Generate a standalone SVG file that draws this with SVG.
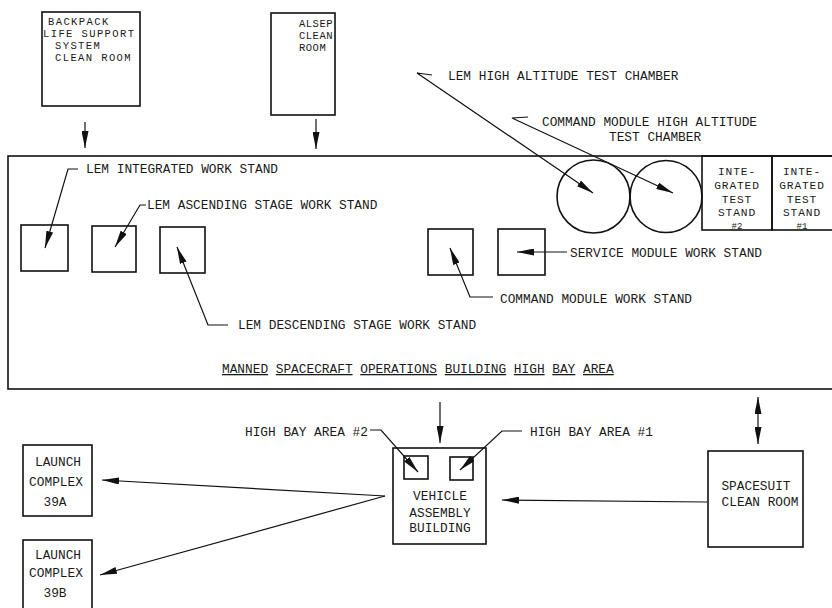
<svg xmlns="http://www.w3.org/2000/svg" width="832" height="608" viewBox="0 0 832 608">
<style>
  .box{fill:none;stroke:#111;stroke-width:1.6}
  .t{font-family:"Liberation Mono","DejaVu Sans Mono",monospace;font-size:12.8px;fill:#1a1a1a}
  .s{font-size:9px}
  .bp{font-size:10.5px;letter-spacing:1.4px}
  .al{font-size:10.5px;letter-spacing:0.5px}
  .it{font-size:11.2px;letter-spacing:0.9px}
  .m{text-anchor:middle}
  .c{fill:none;stroke:#111;stroke-width:1.2}
  .a{marker-end:url(#ah)}
  .u{text-decoration:underline}
</style>
<defs>
  <marker id="ah" viewBox="0 0 17 7" markerWidth="17" markerHeight="7" refX="17" refY="3.5" orient="auto-start-reverse" markerUnits="userSpaceOnUse">
    <path d="M0,0 L17,3.5 L0,7 z" fill="#111"/>
  </marker>
</defs>
<rect width="832" height="608" fill="#fff"/>

<g id="backpack">
  <rect class="box" x="42" y="12" width="98" height="94"/>
  <text class="t bp" x="48" y="25">BACKPACK</text>
  <text class="t bp" x="43" y="37">LIFE SUPPORT</text>
  <text class="t bp" x="55" y="49">SYSTEM</text>
  <text class="t bp" x="55" y="61">CLEAN ROOM</text>
</g>
<g id="alsep">
  <rect class="box" x="271" y="13" width="64" height="102"/>
  <text class="t al" x="299" y="27">ALSEP</text>
  <text class="t al" x="299" y="39">CLEAN</text>
  <text class="t al" x="299" y="51">ROOM</text>
</g>

<g id="msob">
  <rect class="box" x="8" y="156" width="840" height="233"/>
  <text class="t" x="222" y="373"><tspan class="u">MANNED</tspan> <tspan class="u">SPACECRAFT</tspan> <tspan class="u">OPERATIONS</tspan> <tspan class="u">BUILDING</tspan> <tspan class="u">HIGH</tspan> <tspan class="u">BAY</tspan> <tspan class="u">AREA</tspan></text>
</g>
<g id="lem-integrated"><rect class="box" x="21" y="225" width="47" height="46"/></g>
<g id="lem-ascending"><rect class="box" x="92" y="226" width="44" height="46"/></g>
<g id="lem-descending"><rect class="box" x="160" y="227" width="45" height="46"/></g>
<g id="cm-stand"><rect class="box" x="428" y="229" width="45" height="46"/></g>
<g id="sm-stand"><rect class="box" x="498" y="229" width="47" height="46"/></g>
<g id="lem-chamber"><circle class="box" cx="593.5" cy="196.5" r="36.5"/></g>
<g id="cm-chamber"><circle class="box" cx="666" cy="196.5" r="36"/></g>
<g id="its2">
  <rect class="box" x="702" y="156" width="70" height="74"/>
  <text class="t m it" x="737" y="175">INTE-</text>
  <text class="t m it" x="737" y="189">GRATED</text>
  <text class="t m it" x="737" y="203">TEST</text>
  <text class="t m it" x="737" y="216">STAND</text>
  <text class="t m s" x="737" y="229">#2</text>
</g>
<g id="its1">
  <rect class="box" x="772" y="156" width="70" height="74"/>
  <text class="t m it" x="802" y="175">INTE-</text>
  <text class="t m it" x="802" y="189">GRATED</text>
  <text class="t m it" x="802" y="203">TEST</text>
  <text class="t m it" x="802" y="216">STAND</text>
  <text class="t m s" x="802" y="229">#1</text>
</g>

<g id="vab">
  <rect class="box" x="393" y="448" width="93" height="96"/>
  <rect class="box" x="404" y="456" width="24" height="23"/>
  <rect class="box" x="450" y="457" width="23" height="23"/>
  <text class="t m" x="440" y="500">VEHICLE</text>
  <text class="t m" x="440" y="517">ASSEMBLY</text>
  <text class="t m" x="440" y="532">BUILDING</text>
</g>
<g id="lc39a">
  <rect class="box" x="23" y="445" width="69" height="71"/>
  <text class="t m" x="58" y="466">LAUNCH</text>
  <text class="t m" x="56" y="486">COMPLEX</text>
  <text class="t m" x="55" y="506">39A</text>
</g>
<g id="lc39b">
  <rect class="box" x="23" y="540" width="69" height="80"/>
  <text class="t m" x="58" y="559">LAUNCH</text>
  <text class="t m" x="56" y="577">COMPLEX</text>
  <text class="t m" x="55" y="597">39B</text>
</g>
<g id="spacesuit">
  <rect class="box" x="708" y="451" width="95" height="96"/>
  <text class="t m" x="756" y="490">SPACESUIT</text>
  <text class="t m" x="760" y="506">CLEAN ROOM</text>
</g>

<g id="labels">
  <text class="t" x="86" y="173">LEM INTEGRATED WORK STAND</text>
  <text class="t" x="147" y="209">LEM ASCENDING STAGE WORK STAND</text>
  <text class="t" x="238" y="329">LEM DESCENDING STAGE WORK STAND</text>
  <text class="t" x="448" y="80">LEM HIGH ALTITUDE TEST CHAMBER</text>
  <text class="t" x="542" y="126">COMMAND MODULE HIGH ALTITUDE</text>
  <text class="t" x="609" y="141">TEST CHAMBER</text>
  <text class="t" x="570" y="257">SERVICE MODULE WORK STAND</text>
  <text class="t" x="500" y="303">COMMAND MODULE WORK STAND</text>
  <text class="t" x="245" y="436">HIGH BAY AREA #2</text>
  <text class="t" x="530" y="436">HIGH BAY AREA #1</text>
</g>

<g id="connectors">
  <line class="c a" x1="85" y1="122" x2="85" y2="148"/>
  <line class="c a" x1="316" y1="119" x2="316" y2="149"/>
  <polyline class="c a" points="78,169 68,169 45,248"/>
  <polyline class="c a" points="146,205 140,205 115,247"/>
  <polyline class="c a" points="228,325 208,325 177,247"/>
  <polyline class="c a" points="432,75 417,73 593,193"/>
  <polyline class="c a" points="528,117 512,118 673,193"/>
  <line class="c a" x1="567" y1="252" x2="517" y2="252"/>
  <polyline class="c a" points="493,297 470,297 450,248"/>
  <line class="c a" x1="440" y1="402" x2="440" y2="443"/>
  <line class="c a" x1="758" y1="397" x2="758" y2="444" style="marker-start:url(#ah)"/>
  <polyline class="c a" points="370,430 381,430 418,472"/>
  <polyline class="c a" points="522,431 502,431 460,470"/>
  <line class="c a" x1="385" y1="496" x2="102" y2="480"/>
  <line class="c a" x1="385" y1="496" x2="100" y2="575"/>
  <line class="c a" x1="707" y1="502" x2="502" y2="500"/>
</g>
</svg>
